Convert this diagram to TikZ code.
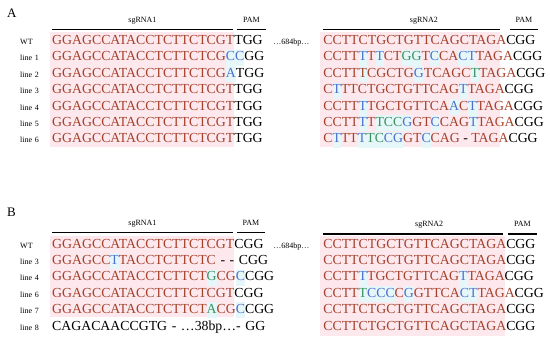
\documentclass[tikz,border=0pt]{standalone}
\usepackage{fontspec}
\setmainfont{Liberation Serif}
\usepackage{xcolor}
\usepackage{tikz}
\usetikzlibrary{matrix, positioning}
\definecolor{seqred}{RGB}{165,66,44}
\definecolor{mutblue}{RGB}{80,110,205}
\definecolor{mutgreen}{RGB}{60,145,95}
\definecolor{mutbg}{RGB}{230,247,250}
\definecolor{sgbg}{RGB}{253,232,238}
\newcommand{\mb}[1]{{\setlength{\fboxsep}{0pt}\colorbox{mutbg}{\strut\textcolor{mutblue}{#1}}}}
\newcommand{\mg}[1]{{\setlength{\fboxsep}{0pt}\colorbox{mutbg}{\strut\textcolor{mutgreen}{#1}}}}
\newcommand{\mc}[1]{{\setlength{\fboxsep}{0pt}\colorbox{mutbg}{\strut #1}}}
\newcommand{\pam}[1]{\textcolor{black}{#1}}
\newcommand{\gapbp}{\ldots684bp\ldots}

\begin{document}
\begin{tikzpicture}[x=1pt, y=-1pt,
    seqtab/.style={matrix of nodes, inner sep=0pt, anchor=north west,
        nodes={anchor=base west, inner xsep=0pt, inner ysep=1.7pt, text height=10pt, text depth=3pt,
            font=\fontsize{13.8}{16}\selectfont, text=seqred},
        column sep=0pt, row sep=0pt,
        column 1/.style={nodes={text width=32pt, align=left, font=\fontsize{8}{9}\selectfont, text=black}},
        column 2/.style={nodes={text width=221pt, align=left}},
        column 3/.style={nodes={text width=50pt, align=left, font=\fontsize{8}{9}\selectfont, text=black}}},
    bar/.style={draw=black, line width=1.1pt},
    barlabel/.style={font=\fontsize{8}{9}\selectfont, inner sep=1.5pt, text depth=0pt, above=5pt},
    panel/.style={font=\fontsize{13}{15}\selectfont, anchor=base west, inner sep=0pt}]
\useasboundingbox (0,0) rectangle (550,341);

% Panel A
\node[panel] (labA) at (7,17) {A};
\fill[sgbg] (50,32) rectangle (234,147);
\fill[sgbg] (320,32) rectangle (500,147);
\draw[bar] (52,29.3) -- (233,29.3) node[barlabel, midway] (sgA1) {sgRNA1};
\draw[bar] (237,29.3) -- (266,29.3) node[barlabel, midway] (pamA1) {PAM};
\draw[bar] (323,29.3) -- (500,29.3) node[barlabel, pos=0.57] (sgA2) {sgRNA2};
\draw[bar] (510,29.3) -- (538,29.3) node[barlabel, midway] (pamA2) {PAM};
\matrix[seqtab] (Aseq) at (20,32.6) {
    WT & GGAGCCATACCTCTTCTCGT\pam{TGG} & \gapbp & CCTTCTGCTGTTCAGCTAGA\pam{CGG} \\
    line 1 & GGAGCCATACCTCTTCTCG\mb{CC}\pam{GG} & & CCTT\mb{T}T\mb{T}CT\mg{GG}T\mb{C}CA\mb{CT}TAGA\pam{CGG} \\
    line 2 & GGAGCCATACCTCTTCTCG\mb{A}\pam{TGG} & & CCTT\mc{T}CGCTG\mb{G}TCAGC\mg{T}TAGA\pam{CGG} \\
    line 3 & GGAGCCATACCTCTTCTCGT\pam{TGG} & & C\mb{T}TTCTGCTGTTCAG\mb{T}TAGA\pam{CGG} \\
    line 4 & GGAGCCATACCTCTTCTCGT\pam{TGG} & & CCTT\mb{T}TGCTGTTCA\mb{A}C\mb{T}TAGA\pam{CGG} \\
    line 5 & GGAGCCATACCTCTTCTCGT\pam{TGG} & & CCTT\mb{T}T\mg{TCC}\mb{G}GT\mb{C}CAG\mb{T}TAGA\pam{CGG} \\
    line 6 & GGAGCCATACCTCTTCTCGT\pam{TGG} & & C\mb{T}TT\mb{T}\mg{TC}\mb{CG}GT\mb{C}CAG\ \pam{-} TAGA\pam{CGG} \\
};

% Panel B
\node[panel] (labB) at (7,216) {B};
\fill[sgbg] (50,236) rectangle (234,317);
\fill[sgbg] (320,236) rectangle (505,336);
\draw[bar] (52,232.3) -- (233,232.3) node[barlabel, midway] (sgB1) {sgRNA1};
\draw[bar] (237,232.3) -- (265,232.3) node[barlabel, midway] (pamB1) {PAM};
\draw[bar] (323,234) -- (503,234) node[barlabel, pos=0.59] (sgB2) {sgRNA2};
\draw[bar] (508,234) -- (537,234) node[barlabel, midway] (pamB2) {PAM};
\matrix[seqtab] (Bseq) at (20,236.1) {
    WT & GGAGCCATACCTCTTCTCGT\pam{CGG} & \gapbp & CCTTCTGCTGTTCAGCTAGA\pam{CGG} \\
    line 3 & GGAGCC\mb{T}TACCTCTTCTC\ \pam{- - CGG} & & CCTTCTGCTGTTCAGCTAGA\pam{CGG} \\
    line 4 & GGAGCCATACCTCTTCT\mg{G}CG\mb{C}\pam{CGG} & & CCTT\mb{T}TGCTGTTCAG\mb{T}TAGA\pam{CGG} \\
    line 6 & GGAGCCATACCTCTTCTCGT\pam{CGG} & & CCTT\mg{T}\mb{CCC}C\mb{G}GTTCA\mb{CT}TAGA\pam{CGG} \\
    line 7 & GGAGCCATACCTCTTCT\mg{A}CG\mb{C}\pam{CGG} & & CCTTCTGCTGTTCAGCTAGA\pam{CGG} \\
    line 8 & \pam{CAGACAACCGTG - \ldots38bp\ldots- GG} & & CCTTCTGCTGTTCAGCTAGA\pam{CGG} \\
};
\end{tikzpicture}
\end{document}
